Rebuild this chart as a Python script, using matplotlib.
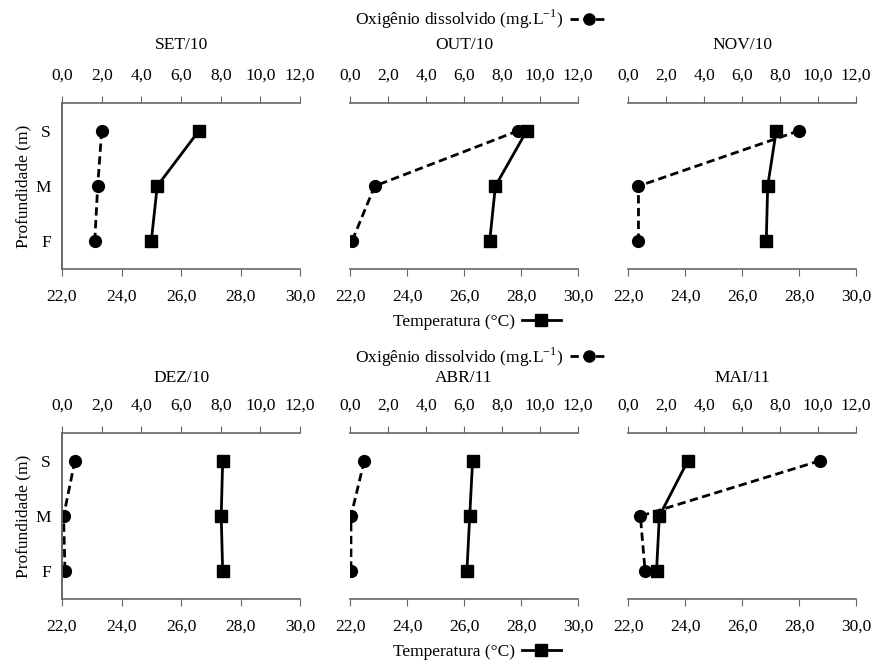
import matplotlib
matplotlib.use("Agg")
import matplotlib.pyplot as plt
from matplotlib.lines import Line2D

plt.rcParams['font.family'] = ['Liberation Serif', 'DejaVu Serif']
plt.rcParams['mathtext.fontset'] = 'custom'
plt.rcParams['mathtext.rm'] = 'Liberation Serif'
plt.rcParams['font.size'] = 12.5

# dados: profundidades S, M, F
meses = ["SET/10", "OUT/10", "NOV/10", "DEZ/10", "ABR/11", "MAI/11"]
profundidades = ["S", "M", "F"]
temperatura = [
    [26.6, 25.2, 25.0],
    [28.2, 27.1, 26.9],
    [27.2, 26.9, 26.85],
    [27.4, 27.35, 27.4],
    [26.3, 26.2, 26.1],
    [24.1, 23.1, 23.0],
]
oxigenio = [
    [2.0, 1.8, 1.65],
    [8.85, 1.3, 0.1],
    [9.0, 0.55, 0.55],
    [0.65, 0.08, 0.15],
    [0.75, 0.05, 0.05],
    [10.1, 0.65, 0.9],
]
ticks_temp = [22, 24, 26, 28, 30]
ticks_od = [0, 2, 4, 6, 8, 10, 12]

cor_eixo = '#666666'
fig = plt.figure(figsize=(8.72, 6.61), dpi=100)

lefts = [0.0711, 0.4014, 0.7202]
widths = [0.273, 0.2615, 0.2615]
bottoms = [0.593, 0.0938]
altura = 0.251
y_titulo = [1.35, 1.33]

def virgula(v):
    return f"{v:.1f}".replace(".", ",")

pos_y = [0.5, 1.5, 2.5]

for i, mes in enumerate(meses):
    linha = i // 3
    col = i % 3
    ax = fig.add_axes([lefts[col], bottoms[linha], widths[col], altura])
    ax2 = ax.twiny()

    ax.plot(temperatura[i], pos_y, color='black', lw=2, marker='s', ms=9, zorder=3)
    ax2.plot(oxigenio[i], pos_y, color='black', lw=2, ls=(0, (3, 1.6)), marker='o', ms=8.5)

    ax.set_xlim(22, 30)
    ax2.set_xlim(0, 12)
    ax.set_ylim(3, 0)
    ax.set_xticks(ticks_temp)
    ax.set_xticklabels([virgula(t) for t in ticks_temp])
    ax2.set_xticks(ticks_od)
    ax2.set_xticklabels([virgula(t) for t in ticks_od])

    for a in (ax, ax2):
        a.spines['right'].set_visible(False)
        a.spines['left'].set_visible(col == 0)
        for s in ('top', 'bottom', 'left'):
            a.spines[s].set_color(cor_eixo)
            a.spines[s].set_linewidth(1.2)
        a.patch.set_visible(False)
    ax.spines['top'].set_visible(False)
    ax2.spines['bottom'].set_visible(False)

    ax.tick_params(axis='x', direction='out', length=5, color=cor_eixo, pad=9)
    ax2.tick_params(axis='x', direction='out', length=5, color=cor_eixo, pad=9)

    if col == 0:
        ax.set_yticks([0, 1, 2, 3])
        ax.set_yticklabels([])
        ax.set_yticks(pos_y, minor=True)
        ax.set_yticklabels(profundidades, minor=True)
        ax.tick_params(axis='y', which='major', direction='out', length=5, color=cor_eixo)
        ax.tick_params(axis='y', which='minor', length=0, pad=8)
        ax.set_ylabel("Profundidade (m)", labelpad=3)
    else:
        ax.set_yticks([])
    ax2.set_yticks([])

    ax.text(0.5, y_titulo[linha], mes, transform=ax.transAxes, ha='center', va='center')

# legendas de cada linha
h_od = Line2D([], [], color='black', lw=2, ls=(0, (3, 1.6)), marker='o', ms=8)
h_temp = Line2D([], [], color='black', lw=2, marker='s', ms=8)
for y_od, y_temp in [(0.970, 0.513), (0.460, 0.014)]:
    fig.legend([h_od], ["Oxigênio dissolvido (mg.L$^{\\mathregular{-1}}$)"], loc='center',
               bbox_to_anchor=(0.552, y_od), frameon=False, markerfirst=False,
               handlelength=2.2, handletextpad=0.4, borderpad=0)
    fig.legend([h_temp], ["Temperatura (°C)"], loc='center',
               bbox_to_anchor=(0.547, y_temp), frameon=False, markerfirst=False,
               handlelength=2.2, handletextpad=0.4, borderpad=0)

fig.savefig("out.png", dpi=100)
